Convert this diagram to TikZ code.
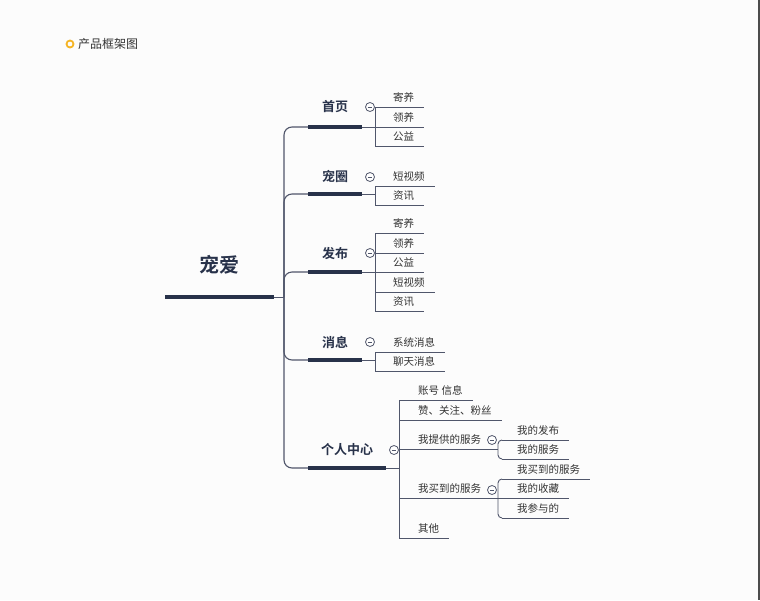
\documentclass[tikz,border=0pt]{standalone}
\usepackage{fontspec}
\setmainfont{Noto Sans CJK SC}[BoldFont={Noto Sans CJK SC Bold}]
\usetikzlibrary{positioning}
\definecolor{navy}{HTML}{28324A}
\definecolor{twiggray}{HTML}{50566B}
\definecolor{leafgray}{HTML}{333333}
\definecolor{ringorange}{HTML}{F5B423}
\definecolor{paper}{HTML}{FCFCFC}
\tikzset{
  bar/.style={fill=navy,inner sep=0pt,minimum height=3.5pt},
  topic/.style={font=\bfseries\fontsize{13}{13}\selectfont,text=navy,inner sep=0pt},
  leaf/.style={anchor=south west,inner xsep=0pt,inner ysep=4pt,text height=8pt,text depth=1pt,
    font=\fontsize{10.5}{10.5}\selectfont,text=leafgray},
  branch/.style={draw=twiggray,line width=1.1pt,rounded corners=8pt},
  twig/.style={draw=twiggray,line width=0.9pt},
  fold/.style={circle,draw=twiggray,fill=white,line width=0.8pt,minimum size=9pt,inner sep=0pt,
    path picture={\draw[twiggray,line width=0.8pt] ([xshift=-2.4pt]path picture bounding box.center)
      -- ([xshift=2.4pt]path picture bounding box.center);}}
}
\begin{document}
\begin{tikzpicture}[x=1pt,y=-1pt]
\fill[paper] (0,0) rectangle (760,600);
\useasboundingbox (0,0) rectangle (760,600);
\draw[black!70,line width=1.5pt] (759.2,0) -- (759.2,600);

% title
\node[circle,draw=ringorange,line width=1.8pt,minimum size=7pt,inner sep=0pt] (dot) at (70,44) {};
\node[anchor=west,font=\fontsize{12}{12}\selectfont,text=leafgray,inner sep=0pt] (title) at (78,44) {产品框架图};

% root
\node[bar,minimum width=109pt,minimum height=4pt] (root) at (219.5,297) {};
\node[topic,font=\bfseries\fontsize{20}{20}\selectfont] (rootT) at (219.5,265) {宠爱};
\coordinate (hub) at (284,297);
\draw[twig] (root.east) -- (hub);

% topics
\node[bar,minimum width=54pt] (shouye) at (335,127) {};
\node[topic] (shouyeT) at (335,107) {首页};
\node[bar,minimum width=54pt] (chongquan) at (335,194) {};
\node[topic] (chongquanT) at (335,176) {宠圈};
\node[bar,minimum width=54pt] (fabu) at (335,272) {};
\node[topic] (fabuT) at (335,254) {发布};
\node[bar,minimum width=54pt] (xiaoxi) at (335,360) {};
\node[topic] (xiaoxiT) at (335,342) {消息};
\node[bar,minimum width=78pt] (geren) at (347,468) {};
\node[topic] (gerenT) at (347,450) {个人中心};
\foreach \n in {shouye,chongquan,fabu,xiaoxi,geren}
  \draw[branch] (hub) |- (\n.west);

% shouye
\draw[twig] (shouye.east) -- (375,127);
\draw[twig] (375,107) -- (375,146);
\foreach \t/\y [count=\i] in {寄养/107,领养/127,公益/146}{
  \node[leaf] (sy\i) at (393,\y) {\t};
  \draw[twig] (375,\y) -- ([xshift=10pt]sy\i.south east);
}
\node[fold] (shouyeF) at (370,107) {};

% chongquan
\draw[twig] (chongquan.east) -- (375,194);
\draw[twig] (375,186) -- (375,205);
\foreach \t/\y [count=\i] in {短视频/186,资讯/205}{
  \node[leaf] (cq\i) at (393,\y) {\t};
  \draw[twig] (375,\y) -- ([xshift=10pt]cq\i.south east);
}
\node[fold] (chongquanF) at (370,177) {};

% fabu
\draw[twig] (fabu.east) -- (375,272);
\draw[twig] (375,233) -- (375,311);
\foreach \t/\y [count=\i] in {寄养/233,领养/253,公益/272,短视频/292,资讯/311}{
  \node[leaf] (fb\i) at (393,\y) {\t};
  \draw[twig] (375,\y) -- ([xshift=10pt]fb\i.south east);
}
\node[fold] (fabuF) at (370,253) {};

% xiaoxi
\draw[twig] (xiaoxi.east) -- (375,360);
\draw[twig] (375,352) -- (375,371);
\foreach \t/\y [count=\i] in {系统消息/352,聊天消息/371}{
  \node[leaf] (xx\i) at (393,\y) {\t};
  \draw[twig] (375,\y) -- ([xshift=10pt]xx\i.south east);
}
\node[fold] (xiaoxiF) at (370,342) {};

% geren
\draw[twig] (geren.east) -- (399,468);
\draw[twig] (399,400) -- (399,538);
\foreach \t/\y [count=\i] in {{账号 信息}/400,{赞、关注、粉丝}/420,其他/538}{
  \node[leaf] (gr\i) at (418,\y) {\t};
  \draw[twig] (399,\y) -- ([xshift=10pt]gr\i.south east);
}
\node[leaf] (tigong) at (418,449) {我提供的服务};
\draw[twig] (399,449) -- (498,449);
\node[leaf] (maidao) at (418,498) {我买到的服务};
\draw[twig] (399,498) -- (502,498);
\node[fold] (gerenF) at (394,450) {};

% tigong
\draw[twig,rounded corners=4pt] (502,440) -- (498,440) -- (498,459) -- (502,459);
\foreach \t/\y [count=\i] in {我的发布/440,我的服务/459}{
  \node[leaf] (tg\i) at (517,\y) {\t};
  \draw[twig] (502,\y) -- ([xshift=10pt]tg\i.south east);
}
\node[fold] (tigongF) at (492,440) {};

% maidao
\draw[twig,rounded corners=4pt] (502,479) -- (498,479) -- (498,518) -- (502,518);
\foreach \t/\y [count=\i] in {我买到的服务/479,我的收藏/498,我参与的/518}{
  \node[leaf] (md\i) at (517,\y) {\t};
  \draw[twig] (502,\y) -- ([xshift=10pt]md\i.south east);
}
\node[fold] (maidaoF) at (492,490) {};
\end{tikzpicture}
\end{document}
